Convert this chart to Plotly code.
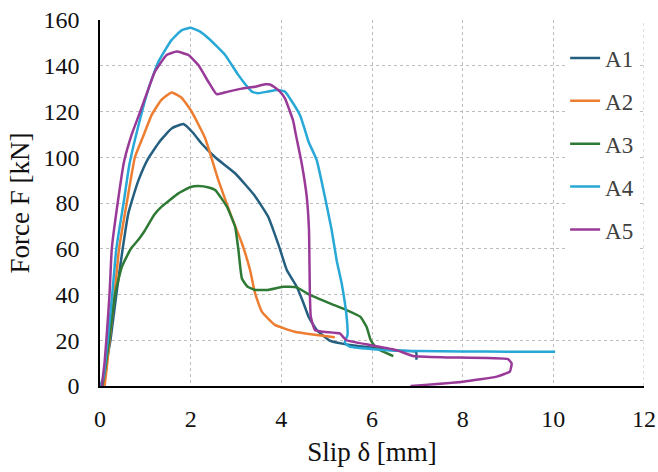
import plotly.graph_objects as go

# ---- data ----
series_names = ["A1", "A2", "A3", "A4", "A5"]
series_colors = ["#245F80", "#ED7D31", "#2E7A34", "#27A8D6", "#993A98"]

a1_x = [0.05, 0.12, 0.23, 0.36, 0.50, 0.62, 0.72, 0.85, 1.05, 1.32, 1.58, 1.84, 2.06, 2.24, 2.54, 2.98, 3.42, 3.71, 3.95, 4.12, 4.34, 4.49, 4.60, 4.78, 5.07, 5.51, 6.10, 6.50, 6.97, 6.98]
a1_y = [0, 8, 20, 40, 60, 75, 82, 90, 99, 107, 112.6, 114.5, 110.5, 106, 100, 93, 83, 74, 61, 50.7, 43.4, 36.2, 30.3, 24.5, 19.8, 17.9, 16.5, 15.5, 15, 11.5]

a2_x = [0.10, 0.15, 0.21, 0.32, 0.42, 0.59, 0.77, 0.95, 1.14, 1.35, 1.58, 1.80, 2.02, 2.32, 2.61, 2.90, 3.13, 3.31, 3.42, 3.57, 3.86, 4.30, 4.78, 5.18]
a2_y = [0, 8, 20, 40, 60, 80, 100, 109, 118.5, 125, 128.3, 126, 120, 108.3, 90, 74, 62.4, 50.7, 40.6, 32.5, 26.7, 23.7, 22.3, 21.3]

a3_x = [0.05, 0.12, 0.20, 0.33, 0.48, 0.68, 0.85, 0.99, 1.20, 1.36, 1.73, 2.00, 2.17, 2.40, 2.54, 2.80, 2.98, 3.05, 3.13, 3.25, 3.42, 3.70, 4.04, 4.34, 4.63, 5.07, 5.44, 5.74, 5.88, 5.97, 6.10, 6.47]
a3_y = [0, 8, 20, 39.8, 52, 60, 64, 68, 75, 78.4, 84.2, 87, 87.4, 86.8, 85.7, 78.4, 69.6, 60, 47, 43.5, 42, 42, 43.4, 43.1, 39.8, 36.1, 33.2, 30.3, 25.9, 20.1, 16.5, 13.1]

a4_x = [0.0, 0.08, 0.17, 0.27, 0.36, 0.52, 0.65, 0.85, 1.07, 1.29, 1.58, 1.80, 2.00, 2.20, 2.39, 2.60, 2.76, 3.05, 3.20, 3.35, 3.49, 3.70, 3.90, 4.08, 4.19, 4.41, 4.52, 4.60, 4.78, 4.96, 5.11, 5.22, 5.33, 5.44, 5.46, 5.40, 5.51, 6.10, 7.00, 8.00, 9.00, 10.04]
a4_y = [0, 4, 20, 40, 60, 80, 97, 114, 130, 141.8, 151.3, 155.5, 156.6, 155, 152, 148, 144.7, 136, 132, 128.7, 128, 128.7, 129.4, 128.7, 125.7, 118.5, 112, 106.8, 98.8, 82.8, 68.2, 55, 44.9, 30.3, 22.3, 19, 17.2, 16, 15.3, 15.1, 15, 15]

a5_x = [0.04, 0.10, 0.14, 0.21, 0.26, 0.39, 0.53, 0.70, 0.85, 1.07, 1.21, 1.47, 1.69, 1.95, 2.17, 2.39, 2.57, 2.70, 2.83, 3.13, 3.42, 3.64, 3.75, 3.86, 3.97, 4.08, 4.19, 4.26, 4.32, 4.45, 4.56, 4.61, 4.62, 4.63, 4.65, 4.74, 4.93, 5.29, 5.37, 5.44, 5.96, 6.54, 6.91, 7.65, 9.00, 9.08, 9.04, 8.75, 8.01, 6.85]
a5_y = [0, 10, 20, 40, 60, 80, 98, 110, 118, 130, 137.4, 144.7, 146.2, 144.7, 140.3, 133, 127.6, 128, 128.7, 130, 130.8, 131.9, 131.8, 130.5, 128.7, 125.7, 120, 116, 110, 97.3, 82.8, 68.2, 55, 40, 30.3, 24.5, 23.7, 23, 21.3, 20, 17.9, 15.7, 13.1, 12.5, 11.7, 9.9, 6.3, 4.1, 1.9, 0]

x_ticks = [0, 2, 4, 6, 8, 10, 12]
y_ticks = [0, 20, 40, 60, 80, 100, 120, 140, 160]

xs = [a1_x, a2_x, a3_x, a4_x, a5_x]
ys = [a1_y, a2_y, a3_y, a4_y, a5_y]

FONT = "Liberation Serif"

fig = go.Figure()
for name, color, x, y in zip(series_names, series_colors, xs, ys):
    fig.add_trace(go.Scatter(
        x=x, y=y, mode="lines", name=name, legendgroup=name,
        line=dict(color=color, width=2.5, shape="spline", smoothing=0.4),
    ))

axis_common = dict(
    showgrid=True, gridcolor="#bdbdbd", gridwidth=1, griddash="dot",
    showline=True, linecolor="black", linewidth=1.5, automargin=False,
    zeroline=False, ticks="", tickfont=dict(family=FONT, size=24, color="#111111"),
)

fig.update_layout(
    width=658, height=472,
    margin=dict(l=100, r=14, t=20, b=86),
    paper_bgcolor="white", plot_bgcolor="white",
    font=dict(family=FONT, color="#111111"),
    xaxis=dict(range=[0, 12], tickvals=x_ticks, ticklabelstandoff=10,
               title=dict(text="Slip δ [mm]", font=dict(family=FONT, size=27), standoff=12),
               **axis_common),
    yaxis=dict(range=[0, 160], tickvals=y_ticks, ticklabelstandoff=14,
               title=dict(text="Force F [kN]", font=dict(family=FONT, size=27), standoff=6),
               **axis_common),
    legend=dict(x=0.855, y=0.955, xanchor="left", yanchor="top",
                bgcolor="white", borderwidth=0,
                font=dict(family=FONT, size=23, color="#404040"),
                tracegroupgap=10, itemwidth=30),
    shapes=[dict(type="line", xref="x", yref="paper", x0=12, x1=12, y0=0, y1=1,
                 line=dict(color="#bdbdbd", width=1, dash="dot"), layer="below")],
    showlegend=True,
)

fig.write_html("out.html", config={"displayModeBar": False},
               post_script="document.body.style.margin='0';")
